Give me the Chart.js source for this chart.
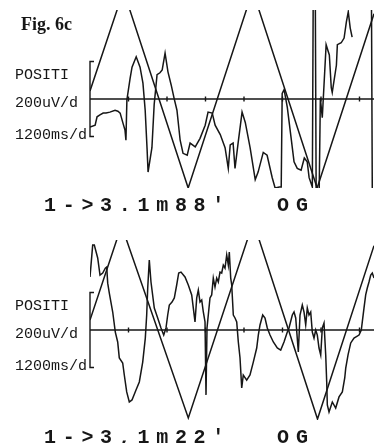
<!DOCTYPE html>
<html>
<head>
<meta charset="utf-8">
<script src="https://cdn.jsdelivr.net/npm/chart.js@4.4.1/dist/chart.umd.min.js"></script>
<style>
  html, body { margin: 0; padding: 0; background: #fff; }
  #wrap { position: relative; width: 374px; height: 443px; overflow: hidden; }
  canvas { position: absolute; left: 0; }
  #top { top: 0; }
  #bottom { top: 221px; }
</style>
</head>
<body>
<div id="wrap">
  <canvas id="top" width="374" height="221"></canvas>
  <canvas id="bottom" width="374" height="222"></canvas>
</div>
<script>
// time in ms, amplitude in uV (200 uV / div, 1200 ms / div)
const DIVISION_MS = 1200
const BRACKET_UV = 200
const SWEEP_MS = 8852
const INK = '#161616'

// top panel: 1->3.1m88'
const stimTimeTop = [0, 1045, 3060, 5070, 7080, 8852]
const stimTop = [43, 578, -475, 578, -475, 455]
const eyeTimeTop = [0, 160, 220, 310, 410, 500, 620, 780, 870, 940, 1030, 1090, 1120, 1150, 1250, 1310, 1440, 1560, 1650, 1720,
  1780, 1810, 1930, 2000, 2090, 2180, 2250, 2340, 2430, 2530, 2620, 2710, 2810, 2900, 3030, 3120, 3280, 3430, 3590, 3680,
  3810, 3900, 4060, 4210, 4310, 4370, 4460, 4520, 4620, 4740, 4840, 4990, 5150, 5240, 5400, 5520, 5680, 5770, 5900, 5960,
  5990, 6050, 6150, 6270, 6360, 6460, 6580, 6680, 6770, 6830, 6930, 6960, 7020, 7050, 7140, 7180, 7240, 7360, 7460, 7520,
  7550, 7680, 7710, 7830, 7920, 7990, 8050, 8110, 8170, 8200, 8770, 8800, 8852]
const eyeTop = [-150, -140, -95, -85, -75, -75, -70, -60, -65, -75, -130, -165, -220, -5, 110, 170, 225, 170, 85, -60,
  -270, -390, -260, -30, 130, 140, 155, 245, 145, 75, 5, -60, -220, -290, -300, -235, -255, -210, -140, -70,
  -75, -140, -190, -260, -370, -245, -235, -370, -230, -70, -125, -260, -430, -390, -285, -300, -420, -475, -470, -470,
  30, 50, -45, -210, -335, -370, -380, -315, -335, -420, -470, 650, 650, -540, -540, 5, -100, 290, 235, 60,
  35, 180, 290, 300, 325, 410, 465, 380, 330, null, 650, -540, -540]

// bottom panel: 1->3,1m22'
const stimTimeBottom = [0, 982, 3064, 5090, 7091, 8852]
const stimBottom = [53, 557, -469, 577, -475, 450]
const eyeTimeBottom = [0, 84, 134, 240, 312, 396, 477, 521, 552, 602, 708, 789, 863, 913, 1019, 1069, 1144, 1225, 1309, 1434,
  1537, 1643, 1724, 1767, 1799, 1848, 1901, 2004, 2110, 2213, 2298, 2369, 2422, 2472, 2556, 2628, 2702, 2765, 2836, 2961,
  3064, 3170, 3273, 3326, 3376, 3429, 3482, 3532, 3585, 3616, 3647, 3740, 3793, 3843, 3896, 3949, 3999, 4052, 4105, 4155,
  4208, 4261, 4311, 4342, 4386, 4417, 4467, 4520, 4573, 4623, 4676, 4729, 4778, 4884, 4987, 5090, 5196, 5246, 5299, 5383,
  5455, 5526, 5611, 5714, 5838, 5944, 6047, 6150, 6203, 6306, 6359, 6412, 6493, 6546, 6617, 6670, 6723, 6773, 6826, 6879,
  6929, 6982, 7035, 7085, 7138, 7191, 7241, 7294, 7347, 7378, 7397, 7450, 7553, 7658, 7762, 7865, 7940, 7971, 8043, 8127,
  8229, 8385, 8456, 8487, 8540, 8593, 8643, 8696, 8750, 8799, 8852]
const eyeBottom = [283, 453, 453, 384, 293, 304, 330, 336, 250, 197, 96, -11, -64, -149, -176, -240, -330, -384, -373, -320,
  -277, -171, -43, 80, 224, 373, 256, 117, 64, 11, -27, 11, 80, 133, 149, 171, 240, 304, 309, 283,
  240, 187, 43, 171, 213, 149, 160, 96, 43, -346, 11, 171, 187, 277, 229, 277, 256, 309, 304, 346,
  330, 400, 346, 416, 277, 240, 80, 64, 43, -64, -149, -309, -240, -267, -240, -171, -96, -27, 27, 80,
  64, 11, -27, -64, -96, -107, -64, -11, 11, 80, 96, 64, -117, 80, 133, 96, 27, 117, 80, 96,
  -11, -43, 0, -27, -96, -133, 11, 37, -133, -277, -400, -437, -384, -416, -357, -330, -256, -203, -133, -69,
  -43, -27, 0, 43, 117, 187, 224, 256, 293, 304, 277]

const sideLabels = ['POSITI', '200uV/d', '1200ms/d']

const points = (times, vals) => times.map((t, i) => ({ x: t, y: vals[i] }))

const tracePlugin = {
  id: 'trace',
  beforeDatasetsDraw(chart) {
    const { ctx, chartArea, scales: { x, y } } = chart
    const y0 = y.getPixelForValue(0)
    ctx.save()
    ctx.strokeStyle = INK
    ctx.lineWidth = 1.4
    ctx.beginPath()
    ctx.moveTo(chartArea.left, y0)
    ctx.lineTo(chartArea.right, y0)
    for (let t = DIVISION_MS; t < x.max; t += DIVISION_MS) {
      const px = x.getPixelForValue(t)
      ctx.moveTo(px, y0 - 2.5)
      ctx.lineTo(px, y0 + 2.5)
    }
    const bx = x.getPixelForValue(0)
    const bt = y.getPixelForValue(BRACKET_UV)
    const bb = y.getPixelForValue(-BRACKET_UV)
    ctx.moveTo(bx + 4, bt)
    ctx.lineTo(bx, bt)
    ctx.lineTo(bx, bb)
    ctx.lineTo(bx + 4, bb)
    ctx.stroke()
    ctx.restore()
  },
  afterDraw(chart, args, opts) {
    const { ctx, chartArea, scales: { y } } = chart
    const y0 = y.getPixelForValue(0)
    ctx.save()
    ctx.fillStyle = INK
    ctx.textBaseline = 'middle'
    ctx.textAlign = 'left'
    if (opts.title) {
      ctx.font = 'bold 18px "Liberation Serif", serif'
      ctx.textBaseline = 'alphabetic'
      ctx.fillText(opts.title, 21, 30)
      ctx.textBaseline = 'middle'
    }
    ctx.font = '15px "Liberation Mono", monospace'
    const offsets = [-24, 4, 36]
    sideLabels.forEach((s, i) => ctx.fillText(s, 15, y0 + offsets[i]))

    // wide-spaced caption under the trace
    const cy = chartArea.bottom + 18
    ctx.font = 'bold 20px "Liberation Mono", monospace'
    ctx.textAlign = 'center'
    Array.from(opts.caption).forEach((ch, i) => ctx.fillText(ch, 50 + i * 18.7, cy))
    Array.from(opts.tag).forEach((ch, i) => ctx.fillText(ch, 283 + i * 19, cy))
    ctx.restore()
  }
}

function makeChart(id, stimT, stim, eyeT, eye, yMax, padding, labels) {
  return new Chart(document.getElementById(id), {
    type: 'line',
    data: {
      datasets: [
        { data: points(stimT, stim), borderColor: INK, borderWidth: 1.5 },
        { data: points(eyeT, eye), borderColor: INK, borderWidth: 1.5 }
      ]
    },
    options: {
      responsive: false,
      animation: false,
      devicePixelRatio: 1,
      layout: { padding },
      elements: { point: { radius: 0 }, line: { tension: 0 } },
      spanGaps: false,
      plugins: {
        legend: { display: false },
        tooltip: { enabled: false },
        trace: labels
      },
      scales: {
        x: { type: 'linear', display: false, min: 0, max: SWEEP_MS },
        y: { display: false, min: -yMax, max: yMax }
      }
    },
    plugins: [tracePlugin]
  })
}

makeChart('top', stimTimeTop, stimTop, eyeTimeTop, eyeTop, 475,
  { left: 90, top: 10, right: 0, bottom: 33 },
  { title: 'Fig. 6c', caption: "1->3.1m88'", tag: 'OG' })

makeChart('bottom', stimTimeBottom, stimBottom, eyeTimeBottom, eyeBottom, 480,
  { left: 90, top: 19, right: 0, bottom: 23 },
  { title: null, caption: "1->3,1m22'", tag: 'OG' })
</script>
</body>
</html>
